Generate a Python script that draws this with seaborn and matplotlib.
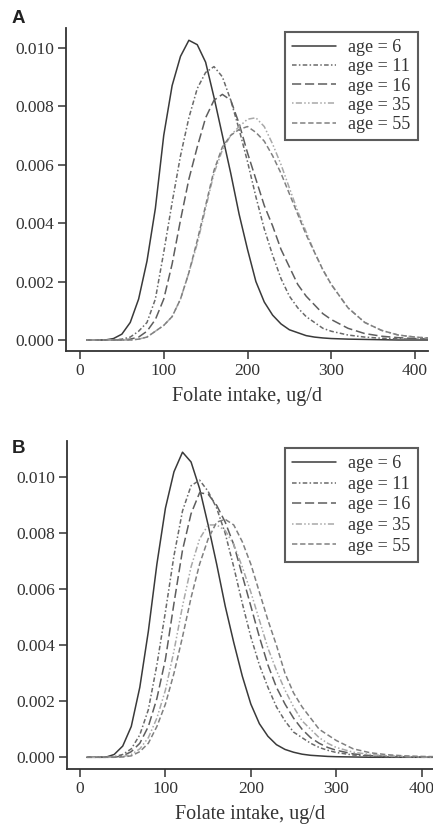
import matplotlib
matplotlib.use("Agg")
import matplotlib.pyplot as plt
import seaborn as sns
import numpy as np
import pandas as pd

# folate intake grid (ug/d)
x_grid = [8, 20, 30, 40, 50, 60, 70, 80, 90, 100, 110, 120, 130, 140, 150,
          160, 170, 180, 190, 200, 210, 220, 230, 240, 250, 260, 270, 280,
          290, 300, 320, 340, 360, 380, 400, 420]

ages = ["age = 6", "age = 11", "age = 16", "age = 35", "age = 55"]

# densities, in units of 1e-4
# panel A
a_age6 = [0, 0, 0, 0.5, 2, 6, 14, 27, 45, 70, 87, 97, 102.5, 101, 95,
          83, 70, 57, 43, 31, 20, 13, 8.5, 5.5, 3.5, 2.5, 1.5, 1, 0.7, 0.5,
          0.3, 0.2, 0.1, 0, 0, 0]
a_age11 = [0, 0, 0, 0, 0.3, 1, 3, 6, 14, 30, 47, 63, 76, 86, 91.5,
           93.5, 90, 82, 72, 61, 49, 38, 29, 21, 15, 11, 8, 6, 4, 3,
           1.7, 1, 0.6, 0.4, 0.3, 0.2]
a_age16 = [0, 0, 0, 0, 0, 0.3, 1, 3, 7, 14, 26, 41, 55, 66, 76,
           82, 84, 82, 74, 64, 55, 46, 39, 31, 25, 19, 15, 12, 9, 7,
           4, 2.2, 1.3, 0.8, 0.5, 0.3]
a_age35 = [0, 0, 0, 0, 0, 0, 0.3, 1, 3, 5, 8, 14, 23, 33, 45,
           57, 65, 70, 73, 75.5, 76, 73, 67, 60, 52, 44, 37, 30, 24, 19,
           11, 6, 3.3, 1.7, 1, 0.6]
a_age55 = [0, 0, 0, 0, 0, 0, 0.3, 1, 3, 5, 8, 14, 23, 34, 46,
           58, 66, 70, 72, 73, 71, 68, 63, 57, 50, 43, 36, 30, 24, 19,
           11, 6, 3.3, 1.7, 1, 0.6]

# panel B
b_age6 = [0, 0, 0, 1, 4, 11, 25, 45, 69, 89, 102, 109, 105.5, 96, 83,
          69, 54, 41, 29, 19, 12, 7.5, 4.5, 2.8, 1.8, 1.1, 0.7, 0.5, 0.3, 0.2,
          0.1, 0, 0, 0, 0, 0]
b_age11 = [0, 0, 0, 0.2, 1, 3, 8, 17, 33, 52, 72, 88, 97, 99, 95,
           89, 80, 68, 55, 43, 33, 25, 18, 13, 9, 7, 5, 3.5, 2.5, 1.7,
           0.8, 0.4, 0.2, 0.1, 0, 0]
b_age16 = [0, 0, 0, 0, 0.5, 2, 5, 11, 21, 35, 55, 74, 87, 94.5, 94,
           90, 84, 76, 65, 54, 43, 33, 25, 19, 14, 10, 7, 5, 3.5, 2.5,
           1.2, 0.6, 0.3, 0.1, 0, 0]
b_age35 = [0, 0, 0, 0, 0.2, 1, 3, 7, 14, 24, 38, 54, 68, 78, 83,
           83, 81, 76, 68, 59, 49, 39, 31, 24, 18, 13, 10, 7, 5, 3.5,
           1.8, 1, 0.5, 0.3, 0.1, 0]
b_age55 = [0, 0, 0, 0, 0.1, 0.5, 2, 5, 11, 19, 30, 43, 57, 69, 78,
           84, 85, 83, 77, 69, 59, 49, 40, 30, 23, 18, 14, 10, 8, 6,
           3, 1.6, 0.9, 0.5, 0.3, 0.2]

y_ticks = [0.000, 0.002, 0.004, 0.006, 0.008, 0.010]
x_ticks = [0, 100, 200, 300, 400]

colors = ["#3a3a3a", "#6a6a6a", "#5e5e5e", "#a8a8a8", "#808080"]
styles = ["-", (0, (3, 1.5, 1, 1.5)), (0, (6, 2.5)),
          (0, (1, 1.5, 4, 1.5, 1, 1.5)), (0, (3.5, 1.8))]

sns.set_style("ticks")
plt.rcParams["font.family"] = ["Liberation Serif", "DejaVu Serif"]

fig = plt.figure(figsize=(4.33, 8.31), dpi=100)


def draw(ax, curves, xlim, ylim, letter, letter_y, leg_anchor, lspace):
    for lab, vals, c, ls in zip(ages, curves, colors, styles):
        df = pd.DataFrame({"x": x_grid, "y": np.array(vals) * 1e-4})
        sns.lineplot(data=df, x="x", y="y", ax=ax, color=c, linestyle=ls,
                     linewidth=1.1, label=lab)
    ax.set_xlim(*xlim)
    ax.set_ylim(*ylim)
    ax.set_xticks(x_ticks)
    ax.set_yticks(y_ticks)
    ax.set_yticklabels([f"{v:.3f}" for v in y_ticks])
    ax.tick_params(direction="out", length=6, width=1.1, color="#333333",
                   labelsize=12.5, labelcolor="#333333", pad=2.5)
    ax.set_xlabel("Folate intake, ug/d", fontsize=14.5, color="#333333",
                  labelpad=6)
    ax.set_ylabel("")
    for s in ["top", "right"]:
        ax.spines[s].set_visible(False)
    for s in ["left", "bottom"]:
        ax.spines[s].set_linewidth(1.3)
        ax.spines[s].set_color("#333333")
    leg = ax.legend(loc="upper right", bbox_to_anchor=leg_anchor,
                    bbox_transform=fig.transFigure, borderaxespad=0,
                    fontsize=13, frameon=True, fancybox=False,
                    handlelength=2.4, handletextpad=0.7, labelspacing=lspace,
                    borderpad=0.4)
    leg.get_frame().set_edgecolor("#333333")
    leg.get_frame().set_linewidth(1.5)
    for t in leg.get_texts():
        t.set_color("#333333")
    fig.text(12 / 433, letter_y, letter, fontsize=13.5, fontweight="bold",
             family=["Liberation Sans", "DejaVu Sans"], va="top",
             color="#222222")


ax_a = fig.add_axes([66 / 433, 1 - 351 / 831, 362 / 433, 323 / 831])
draw(ax_a, [a_age6, a_age11, a_age16, a_age35, a_age55],
     (-16.7, 415.5), (-0.000376, 0.01067), "A", 1 - 10 / 831,
     (418 / 433, 1 - 32 / 831), 0.12)

ax_b = fig.add_axes([66.7 / 433, 1 - 769.3 / 831, 366.3 / 433, 328.6 / 831])
draw(ax_b, [b_age6, b_age11, b_age16, b_age35, b_age55],
     (-15.6, 413.3), (-0.00043, 0.01131), "B", 1 - 440 / 831,
     (418 / 433, 1 - 448 / 831), 0.2)

fig.savefig("out.png", dpi=100)
